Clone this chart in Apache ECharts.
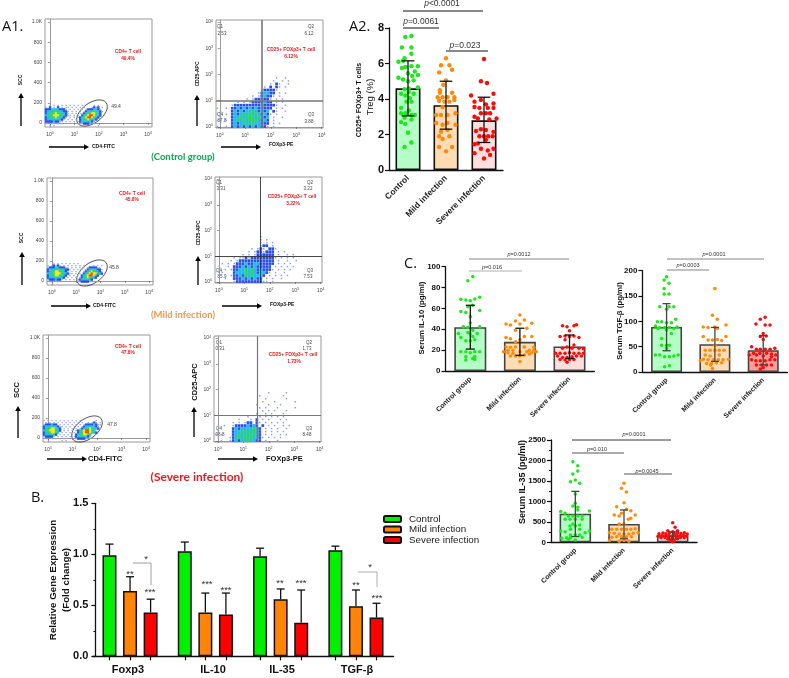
<!DOCTYPE html>
<html>
<head>
<meta charset="utf-8">
<style>
html, body { margin: 0; padding: 0; background: #fff; }
#chart { width: 789px; height: 678px; }
</style>
<script src="https://cdn.jsdelivr.net/npm/echarts@6/dist/echarts.min.js"></script>
</head>
<body>
<div id="chart"></div>
<script>
// Groups
const groupNames = ['Control', 'Mild infection', 'Severe infection'];
const serumNames = ['Control group', 'Mild infection', 'Severe infection'];

// A2 Treg (%): bar heights, error ranges, dots as [offset from bar centre, value]
const tregMeans = [4.6, 3.65, 2.8];
const tregErrors = [[3.05, 6.15], [2.3, 5.0], [1.55, 4.1]];
const tregControl = [[-.07,7.5],[.09,7.55],[-.16,6.9],[.09,6.9],[-.09,6.3],[.09,6.55],[-.25,6.1],[-.13,6.15],[-.16,5.75],[-.07,5.8],[.09,5.85],[.26,5.85],[.18,5.55],[0,5.45],[.11,5.3],[.26,5.35],[-.25,5.2],[-.13,5.1],[0,5],[.15,5.05],[.26,4.65],[-.09,4.55],[.02,4.6],[-.18,4.3],[-.07,4.2],[.02,4.4],[.15,4.3],[.05,4.05],[-.04,3.85],[.09,3.85],[-.18,3.5],[-.18,3.2],[-.07,3.2],[.02,3.35],[.09,3.1],[.18,3.1],[-.09,2.95],[.09,2.85],[-.18,2.7],[-.07,2.6],[0,2.1],[.09,1.55],[-.09,1.3]];
const tregMild = [[0,6.3],[-.13,5.9],[.09,5.9],[-.18,5.5],[.16,5.65],[-.07,4.8],[0,5.05],[-.16,4.5],[-.16,4.35],[.16,4.35],[-.22,4.1],[-.09,4.1],[.04,4.1],[.22,4.1],[-.18,3.9],[-.04,3.85],[.09,3.85],[.22,3.95],[-.09,3.55],[-.26,3.1],[-.13,3.1],[.04,3.1],[.25,3.2],[-.26,2.65],[-.09,2.55],[.04,2.65],[.25,2.55],[-.18,1.9],[.09,1.9],[-.09,1.75],[-.18,1.3],[.16,1.3],[0,1.05],[-.13,2.15],[.04,2.25]];
const tregSevere = [[0,6.25],[-.08,5],[.08,4.9],[-.34,4.2],[.25,4.3],[-.25,3.85],[-.08,3.95],[.05,3.7],[.25,3.75],[-.25,3.55],[-.12,3.5],[.25,3.5],[.1,3.5],[-.08,3.2],[.05,3.2],[.16,3.2],[-.25,3],[-.16,2.9],[.33,2.9],[.14,2.85],[-.08,2.3],[.05,2.25],[-.21,2.2],[.25,2.15],[-.12,1.9],[0,1.9],[.11,1.9],[.23,1.9],[.05,1.7],[-.25,1.45],[-.16,1.5],[.25,1.2],[.1,1.1],[-.25,.95],[-.08,1.2],[.16,.85],[0,.65]];

// C Serum IL-10
const il10Means = [42, 28, 23.5];
const il10Errors = [[21, 63], [15, 41], [12, 34.5]];
const il10Control = [[.05,90.5],[-.05,86.6],[.19,70.6],[.09,69],[-.19,68.7],[-.09,68],[0,67.4],[.05,63],[-.05,61.7],[-.19,57],[-.09,56],[.19,58],[0,52],[0,46],[-.14,42.5],[-.05,42],[.19,42.5],[.05,39],[-.24,36],[-.05,37],[0,35.5],[.14,36],[-.19,32],[.05,33],[-.09,29],[0,29],[.09,30],[-.19,18.5],[-.09,18.5],[0,17.5],[.09,18.5],[.19,18.5],[-.09,13.7],[.09,14],[.05,12],[-.09,10.5],[.09,11]];
const il10Mild = [[0,53.7],[-.09,48],[.09,49],[-.28,45],[-.19,44],[0,45],[.24,45.7],[-.09,39],[.14,41],[-.28,32],[-.19,31],[.09,33],[.24,33],[0,30],[-.09,28],[-.28,23],[-.19,22.7],[-.09,23],[.09,23],[.28,22.7],[-.24,20],[-.14,20],[.19,20],[.28,20],[-.33,18.5],[-.24,17.5],[-.14,17],[0,18.5],[.14,18.5],[.24,17.5],[.33,18.5],[-.09,14.4],[0,14.4],[.09,15.3],[-.19,14.4],[.19,16.3],[0,9]];
const il10Severe = [[-.14,43.5],[-.05,42.5],[.09,43.5],[.14,44.4],[0,38.7],[-.19,33],[-.09,33.5],[0,33],[.09,33.5],[.19,32],[-.09,30],[-.05,23],[-.14,21.7],[.09,25],[.05,21.7],[.19,21.7],[.28,21.4],[-.28,17],[-.19,17],[-.09,17],[0,17.5],[.09,17],[.19,17],[.28,17],[-.24,14.4],[-.14,13],[-.05,13],[.05,13.7],[.14,14.4],[.24,14.4],[-.19,11],[-.09,10.5],[0,11],[.09,11],[-.05,8.3]];

// C Serum TGF-beta
const tgfMeans = [89, 55, 43];
const tgfErrors = [[42, 135], [21, 88], [14, 72]];
const tgfControl = [[0,188],[-.05,181.5],[.05,175],[-.05,165],[-.05,154],[.05,154],[-.14,129],[.05,129],[.15,129],[0,124],[-.19,99],[-.1,99],[0,97],[.1,97],[.19,104],[-.23,91],[-.14,88],[-.04,88],[.06,88],[.15,86],[.22,89],[-.18,86],[0,83],[.1,76],[-.1,66],[-.1,53],[0,53],[.06,53],[0,47],[-.23,33.5],[-.14,33.5],[-.04,30],[.06,30],[.15,31.5],[.24,33.5],[-.04,10.5],[.06,12.5]];
const tgfMild = [[0,165],[-.05,112],[.05,104],[-.24,89],[-.14,88],[0,89],[.23,93],[.05,86],[-.24,70],[-.14,63],[-.05,63],[.05,64],[.14,62],[.23,70],[-.2,43],[-.1,43],[0,53],[.09,43],[.19,43],[0,43],[-.2,33.5],[-.1,31.5],[.09,33.5],[-.24,25],[-.14,24],[-.03,24],[.07,24],[.17,24],[.28,25],[-.3,22],[-.17,17],[-.07,17],[.03,18.5],[.14,18.5],[-.05,7],[-.09,14]];
const tgfSevere = [[.04,108],[-.15,95],[-.06,104],[.04,93],[.14,93],[0,76],[-.06,70],[.06,71],[0,64],[-.24,50],[-.14,45],[-.06,45],[.04,45],[.14,45],[.24,47],[-.2,37],[-.07,37],[.07,37],[.17,35.5],[-.29,33.5],[-.14,33.5],[0,31.5],[.26,33.5],[.17,30],[-.24,24],[-.15,22],[-.06,22],[.04,22],[.14,24],[.24,24],[-.14,14],[-.03,14],[.07,14],[.17,14],[0,9],[-.06,6]];

// C Serum IL-35
const il35Means = [700, 450, 170];
const il35Errors = [[140, 1245], [85, 790], [80, 255]];
const il35Control = [[-.05,1970],[.05,1872],[-.05,1670],[.05,1742],[-.1,1481],[0,1522],[.09,1441],[0,1180],[0,952],[-.05,887],[.05,855],[.05,790],[-.3,750],[-.21,708],[.29,765],[-.14,643],[-.05,643],[.05,643],[.14,643],[-.21,562],[-.11,562],[0,562],[.14,562],[-.05,448],[-.11,400],[0,400],[.09,423],[-.1,317],[.09,317],[-.3,277],[-.21,260],[.29,277],[.2,236],[-.1,180],[0,180],[.09,180],[-.18,114],[-.1,114],[-.28,98],[.14,122],[0,57],[-.14,73]];
const il35Mild = [[0,1441],[-.05,1319],[.05,1229],[0,969],[-.15,871],[.05,806],[.14,773],[-.05,708],[-.2,667],[-.1,643],[.23,667],[.14,586],[.09,562],[-.1,448],[0,448],[-.25,317],[-.15,317],[-.05,317],[.05,317],[.14,317],[.23,334],[-.3,236],[-.2,220],[-.1,204],[0,204],[.1,204],[.19,220],[.29,236],[-.15,138],[-.05,138],[.05,138],[.15,138],[-.3,41],[-.1,24],[0,41],[.1,24],[-.25,122]];
const il35Severe = [[0,480],[.05,366],[-.1,285],[0,260],[.1,285],[-.28,210],[-.2,225],[-.14,210],[-.07,230],[.03,215],[.1,225],[.17,215],[.24,235],[.3,205],[-.3,150],[-.22,165],[-.15,150],[-.08,170],[0,160],[.07,170],[.14,155],[.22,165],[.28,150],[-.24,110],[-.16,115],[-.08,105],[0,120],[.08,110],[.16,120],[.24,110],[-.1,80],[0,70],[.1,85],[-.05,40],[.03,30],[0,15]];

// B Relative gene expression
const geneNames = ['Foxp3', 'IL-10', 'IL-35', 'TGF-β'];
const geneControl = [0.99, 1.03, 0.98, 1.04];
const geneMild = [0.64, 0.43, 0.56, 0.49];
const geneSevere = [0.43, 0.41, 0.33, 0.38];
const geneControlHigh = [1.10, 1.12, 1.06, 1.08];
const geneMildHigh = [0.78, 0.62, 0.66, 0.65];
const geneSevereHigh = [0.56, 0.62, 0.65, 0.52];

// A1 density maps read by eye, one character per cell (. empty, 1 sparse blue ... 6 red), top row first
const sccControl = [
  '..1.1.1.1.1.1.1.1.1.....1.1...',
  '1.2.1.2.1.11.1.1.1.1...1212.1.',
  '22233332221.1.1.1.1.12223321..',
  '233344333221.1.1.1.1233343321.',
  '234445443321.1.1.11234455432..',
  '3344555443211.1.1.2345665432..',
  '23444544321.1.1.12345665432...',
  '2333343321.1.1.1.234454432....',
  '222232211.1.1.1.123343321.....',
  '11111.1.1.........12221.......',
  '..1.1.....................1...'
];
const sccMild = [
  '...1.1.1.1.1.1.1..............',
  '1.12121.1.1.1.1.1.1....1.1.1..',
  '12223322211.1.1.1.1.1222211...',
  '233334433221.1.1.1.123333221..',
  '23445544321.1.1.1.1234544321..',
  '3344555443211.1.1.2345655432..',
  '2344554432.1.1.1.234566542....',
  '233344332.1.1.1.123454432.....',
  '12223221.1.1.1.12334332.......',
  '.111.1.........11222211.......',
  '..............................'
];
const sccSevere = [
  '1.1.1.1.1.1.1.1.1.1.......1...',
  '.1.1.1.1.1.1.1.1.1.1..1.121.1.',
  '1222322.1.1.1.1.1.1.122223211.',
  '2333433211.1.1.1.1.123343321..',
  '234455432.1.1.1.1.12344543321.',
  '344555432.1.1.1.1234566543....',
  '23445543.1.1.1.1.2345665432...',
  '2333432.1.1.1.1.23445543......',
  '122221.1.1.1.1.123343321......',
  '.11.1.1.1.1.....122221........',
  '.........1.1..................'
];
const foxControl = [
  '....................1..1....',
  '...................1..1.1...',
  '..................1.21..1...',
  '................1.2.21.1....',
  '...............122221.......',
  '..............123322.1.1....',
  '............1.123221.1......',
  '..........1.1222221.1.1.....',
  '.......1.1.12222322.1.1.....',
  '.....1222222222322221..1....',
  '1..1.22323232323222.1.1.....',
  '.1...2323233432323.21..1....',
  '1..1.23234343432321.1.......',
  '.1...2334344434323.1..1.....',
  '1..1.2343434443232.1........',
  '.1...2323343433222.1.1......',
  '1..1.2323232323221.1........'
];
const foxMild = [
  '............................',
  '...............1............',
  '...............1.1..........',
  '...............1.1.1........',
  '...............122.1........',
  '............1.121.221.......',
  '...........1.1221222.1.1....',
  '.........1.1.1222222.1..1.1.',
  '......1.1121222222221.1.1.1.',
  '.....1.1222222222222.1..1..1',
  '..1.1.12223223322222.1.1.1..',
  '.1..1.2223232322222.1.1.1.1.',
  '...1.122334343232221.1.1.1..',
  '..1...2333434323321.1..1....',
  '.1...122324343332.1.1.1.1...',
  '...1..2223232322.1.1..1.....',
  '......122222222211.1........'
];
const foxSevere = [
  '..................1.....1...',
  '...............1.......1....',
  '.................1......1...',
  '................1...1......1',
  '..............1...1...1.....',
  '...............1.1...1.....1',
  '................1.1.1...1...',
  '..............1..1.1...1....',
  '...........1...1.1.1.1.1....',
  '........1...1.2.1.1...1.1...',
  '......1.1.122.21.1.1.1.1....',
  '.1.1..122223232.2.1.1..1.1..',
  '..1...2323333432.1.1.1..1...',
  '.1....2334343432.1.1.1.1....',
  '1.1...2343434432.1.1..1.1...',
  '.1...123434443321.1.1.1.....',
  '..1..12323343322.1...1......'
];
// Quadrant gate on FOXp3-PE as decades
const foxGates = [1.63, 1.62, 1.56];

const sansFont = 'Liberation Sans';
const labelFont = 'Open Sans';
const levelColors = ['', '#8d9ff0', '#2a4fe6', '#22bdea', '#2fd469', '#f2e61e', '#f04a12'];
const dotColors = ['#1ce81c', '#ff8a0a', '#ff0a0a'];

const grids = [], xAxes = [], yAxes = [], series = [], graphics = [];

function txt(x, y, text, size, opts) {
    opts = opts || {};
    graphics.push({
        type: 'text', x: x, y: y, rotation: opts.rotation || 0, silent: true,
        style: {
            text: text, fill: opts.color || '#111',
            fontSize: size, fontFamily: opts.font || sansFont, fontWeight: opts.weight || 'normal',
            align: opts.align || 'center', verticalAlign: 'middle', rich: opts.rich
        }
    });
}

function segment(points, color, width) {
    graphics.push({
        type: 'polyline', silent: true, shape: { points: points },
        style: { stroke: color, lineWidth: width, fill: 'none' }
    });
}

function arrow(x1, y1, x2, y2) {
    const isVertical = x1 === x2;
    segment([[x1, y1], [isVertical ? x2 : x2 - 4, isVertical ? y2 + 4 : y2]], '#000', 1.3);
    const head = isVertical
        ? [[x2, y2], [x2 - 2.8, y2 + 5], [x2 + 2.8, y2 + 5]]
        : [[x2, y2], [x2 - 5, y2 - 2.8], [x2 - 5, y2 + 2.8]];
    graphics.push({ type: 'polygon', silent: true, shape: { points: head }, style: { fill: '#000' } });
}

function pValue(x, y, text, size) {
    txt(x, y, '{i|p}' + text, size, {
        color: '#333',
        rich: { i: { fontStyle: 'italic', fontSize: size, fontFamily: sansFont, fill: '#333', color: '#333' } }
    });
}

function densityCells(rows, xMin, dx, yMin, dy) {
    const cells = [];
    rows.forEach((row, r) => {
        const y = yMin + (rows.length - 1 - r + 0.5) * dy;
        row.split('').forEach((ch, c) => {
            if (ch !== '.') cells.push([xMin + (c + 0.5) * dx, y, +ch]);
        });
    });
    return cells;
}

function flowPlot(rect, kind, rows, gate, lineColor, lineWidth) {
    const idx = grids.length;
    const isScc = kind === 'scc';
    grids.push(Object.assign({ show: true, borderColor: '#999', borderWidth: 1, backgroundColor: '#fff' }, rect));
    const expLabel = v => '10{s|' + v + '}';
    const expRich = { s: { fontSize: 3.5, verticalAlign: 'bottom', padding: [0, 0, 3, 0], color: '#444', fontFamily: sansFont } };
    xAxes.push({
        gridIndex: idx, type: 'value', splitLine: { show: false },
        min: isScc ? -0.2 : -0.15, max: isScc ? 4.16 : 4.05,
        axisLine: { lineStyle: { color: '#999' } },
        axisTick: { length: 2, lineStyle: { color: '#555', width: 0.6 }, customValues: [0, 1, 2, 3, 4] },
        axisLabel: { fontSize: 5, color: '#444', fontFamily: sansFont, margin: 4, customValues: [0, 1, 2, 3, 4], formatter: expLabel, rich: expRich }
    });
    const ySccTicks = [0, 200, 400, 600, 800, 1000];
    const yFoxTicks = [0, 1, 2, 3, 4];
    const yTicks = isScc ? ySccTicks : yFoxTicks;
    yAxes.push({
        gridIndex: idx, type: 'value', splitLine: { show: false },
        min: isScc ? -40 : -0.04, max: isScc ? 1030 : 4.08,
        axisLine: { lineStyle: { color: '#999' } },
        axisTick: { length: 2, lineStyle: { color: '#555', width: 0.6 }, customValues: yTicks },
        axisLabel: {
            fontSize: 5, color: '#444', fontFamily: sansFont, margin: 3, customValues: yTicks, rich: expRich,
            formatter: isScc ? (v => v === 1000 ? '1.0K' : String(v)) : expLabel
        }
    });
    const cells = isScc ? densityCells(rows, -0.2, 0.082, -36, 20) : densityCells(rows, -0.15, 0.116, -0.04, 0.116);
    // sparse levels get smaller squares so the white shows through like a dot plot
    const cellSizes = isScc ? [0, 1.3, 2.4, 2.4, 2.4, 2.4, 2.4] : [0, 1.5, 2.7, 3.2, 3.4, 3.4, 3.4];
    const s = {
        type: 'scatter', xAxisIndex: xAxes.length - 1, yAxisIndex: yAxes.length - 1,
        data: cells, symbol: 'rect', silent: true,
        symbolSize: d => cellSizes[d[2]],
        itemStyle: { opacity: 1, color: p => levelColors[p.data[2]] }
    };
    if (!isScc) {
        s.markLine = {
            silent: true, symbol: 'none', label: { show: false }, animation: false,
            lineStyle: { color: lineColor, width: lineWidth, type: 'solid' },
            data: [{ xAxis: gate }, { yAxis: 1 }]
        };
    }
    series.push(s);
}

function errorSeries(xIdx, yIdx, data, capHalf, color, width, bothCaps) {
    series.push({
        type: 'custom', xAxisIndex: xIdx, yAxisIndex: yIdx, silent: true, z: 5,
        encode: { x: 0, y: [1, 2] }, data: data,
        renderItem: (params, api) => {
            const low = api.coord([api.value(0), api.value(1)]);
            const high = api.coord([api.value(0), api.value(2)]);
            const style = { stroke: color, lineWidth: width };
            const kids = [
                { type: 'line', shape: { x1: low[0], y1: low[1], x2: high[0], y2: high[1] }, style: style },
                { type: 'line', shape: { x1: high[0] - capHalf, y1: high[1], x2: high[0] + capHalf, y2: high[1] }, style: style }
            ];
            if (bothCaps) kids.push({ type: 'line', shape: { x1: low[0] - capHalf, y1: low[1], x2: low[0] + capHalf, y2: low[1] }, style: style });
            return { type: 'group', children: kids };
        }
    });
}

// One bar panel: hidden value x axis lies over the category axis so the dots can spread sideways
function dotBarPanel(cfg) {
    const idx = grids.length;
    grids.push(cfg.rect);
    xAxes.push({
        gridIndex: idx, type: 'category', data: cfg.names,
        axisLine: { lineStyle: { color: '#111', width: 1.3 } },
        axisTick: { alignWithLabel: true, length: 4, lineStyle: { color: '#111', width: 1.2 } },
        axisLabel: { rotate: 45, fontSize: cfg.nameSize, fontWeight: 'bold', fontFamily: sansFont, color: '#222', margin: 7, interval: 0 }
    });
    const catIdx = xAxes.length - 1;
    xAxes.push({ gridIndex: idx, type: 'value', min: 0, max: 3, show: false });
    const valIdx = xAxes.length - 1;
    yAxes.push({
        gridIndex: idx, type: 'value', min: 0, max: cfg.max, interval: cfg.interval, splitLine: { show: false },
        axisLine: { show: true, lineStyle: { color: '#111', width: 1.3 } },
        axisTick: { show: true, length: 4, lineStyle: { color: '#111', width: 1.2 } },
        minorTick: { show: !!cfg.minor, splitNumber: 2, length: 2, lineStyle: { color: '#111' } },
        axisLabel: { fontSize: cfg.tickSize, fontWeight: 'bold', fontFamily: sansFont, color: '#111', margin: 5, formatter: v => String(v) }
    });
    const yIdx = yAxes.length - 1;
    series.push({
        type: 'bar', xAxisIndex: catIdx, yAxisIndex: yIdx, barWidth: cfg.barWidth, silent: true,
        data: cfg.means.map((v, i) => ({ value: v, itemStyle: { color: cfg.fills[i] } })),
        itemStyle: { borderColor: cfg.barBorder, borderWidth: 1.6 }
    });
    cfg.dots.forEach((dots, g) => {
        series.push({
            type: 'scatter', xAxisIndex: valIdx, yAxisIndex: yIdx, symbolSize: cfg.dotSize, silent: true,
            data: dots.map(d => [g + 0.5 + d[0], d[1]]),
            itemStyle: { color: dotColors[g], opacity: 1 }
        });
    });
    errorSeries(valIdx, yIdx, cfg.errors.map((e, g) => [g + 0.5, e[0], e[1]]), cfg.capHalf, cfg.errorColor, 1.3, true);
}

// A1 flow plots
flowPlot({ left: 45, top: 19, width: 107, height: 108 }, 'scc', sccControl);
flowPlot({ left: 216, top: 20, width: 107, height: 108 }, 'fox', foxControl, foxGates[0], '#777', 1.6);
flowPlot({ left: 47, top: 178, width: 106, height: 107 }, 'scc', sccMild);
flowPlot({ left: 215, top: 177, width: 107, height: 106 }, 'fox', foxMild, foxGates[1], '#333', 0.9);
flowPlot({ left: 43, top: 335, width: 107, height: 107 }, 'scc', sccSevere);
flowPlot({ left: 214, top: 336, width: 107, height: 106 }, 'fox', foxSevere, foxGates[2], '#777', 1.2);

// A2
dotBarPanel({
    rect: { left: 389, top: 28, width: 114, height: 142 }, names: groupNames, max: 8, interval: 2,
    means: tregMeans, errors: tregErrors, dots: [tregControl, tregMild, tregSevere],
    fills: ['#b4ffc6', '#ffdcb4', '#ffdede'], barBorder: '#111', errorColor: '#111',
    barWidth: 25, dotSize: 4.4, capHalf: 6.3, tickSize: 11, nameSize: 8.5
});
// C
dotBarPanel({
    rect: { left: 445.5, top: 266.7, width: 148.8, height: 104.3 }, names: serumNames, max: 100, interval: 20,
    means: il10Means, errors: il10Errors, dots: [il10Control, il10Mild, il10Severe],
    fills: ['#b4ffc6', '#ffdcb4', '#ffdede'], barBorder: '#444', errorColor: '#111',
    barWidth: 32, dotSize: 3.5, capHalf: 4.5, tickSize: 8, nameSize: 7
});
dotBarPanel({
    rect: { left: 642.4, top: 270.7, width: 145, height: 101.3 }, names: serumNames, max: 200, interval: 50,
    means: tgfMeans, errors: tgfErrors, dots: [tgfControl, tgfMild, tgfSevere],
    fills: ['#b4ffc6', '#ffdcb4', '#ff9c9c'], barBorder: '#444', errorColor: '#444',
    barWidth: 31, dotSize: 3.5, capHalf: 4, tickSize: 8, nameSize: 7
});
dotBarPanel({
    rect: { left: 551, top: 440, width: 146, height: 102.3 }, names: serumNames, max: 2500, interval: 500, minor: true,
    means: il35Means, errors: il35Errors, dots: [il35Control, il35Mild, il35Severe],
    fills: ['#b4ffc6', '#ffdcb4', '#ffdede'], barBorder: '#444', errorColor: '#444',
    barWidth: 31.5, dotSize: 3.5, capHalf: 4, tickSize: 8, nameSize: 7
});

// B
const geneGrid = grids.length;
grids.push({ left: 92.4, top: 503.3, width: 301.2, height: 153 });
xAxes.push({
    gridIndex: geneGrid, type: 'category', data: geneNames,
    axisLine: { show: false }, axisTick: { show: false }, axisLabel: { show: false }
});
const geneCat = xAxes.length - 1;
const geneTicks = [];
geneNames.forEach((n, g) => { [-0.273, 0, 0.273].forEach(o => geneTicks.push(g + 0.5 + o)); });
xAxes.push({
    gridIndex: geneGrid, type: 'value', min: 0, max: 4, position: 'bottom', splitLine: { show: false },
    axisLine: { show: true, lineStyle: { color: '#111', width: 1.3 } },
    axisTick: { show: true, length: 4, lineStyle: { color: '#111', width: 1.2 }, customValues: geneTicks },
    axisLabel: { show: false }
});
const geneVal = xAxes.length - 1;
yAxes.push({
    gridIndex: geneGrid, type: 'value', min: 0, max: 1.5, interval: 0.5, offset: -3, splitLine: { show: false },
    axisLine: { show: true, lineStyle: { color: '#111', width: 1.3 } },
    axisTick: { show: true, length: 4, lineStyle: { color: '#111', width: 1.2 } },
    minorTick: { show: true, splitNumber: 2, length: 2, lineStyle: { color: '#111' } },
    axisLabel: { fontSize: 11, fontWeight: 'bold', fontFamily: sansFont, color: '#111', margin: 7, formatter: v => v.toFixed(1) }
});
const geneY = yAxes.length - 1;
[[groupNames[0], geneControl, '#00f000'], [groupNames[1], geneMild, '#ff8408'], [groupNames[2], geneSevere, '#ff0000']].forEach(item => {
    series.push({
        name: item[0], type: 'bar', xAxisIndex: geneCat, yAxisIndex: geneY, data: item[1], silent: true,
        barWidth: 14, barGap: '47%', itemStyle: { color: item[2], borderColor: '#111', borderWidth: 1.5 }
    });
});
[[geneControlHigh, geneControl, -0.273], [geneMildHigh, geneMild, 0], [geneSevereHigh, geneSevere, 0.273]].forEach(item => {
    errorSeries(geneVal, geneY, item[0].map((h, g) => [g + 0.5 + item[2], item[1][g], h]), 4, '#111', 1.3, false);
});
// the labels sit a little off the group centres in the original
[128, 213, 282, 357].forEach((x, g) => txt(x, 670, geneNames[g], 11, { weight: 'bold' }));

// Panel letters
txt(2, 27, 'A1.', 14.5, { align: 'left', font: labelFont });
txt(349, 27, 'A2.', 14.5, { align: 'left', font: labelFont });
txt(404, 264, 'C.', 14.5, { align: 'left', font: labelFont });
txt(31, 498, 'B.', 14.5, { align: 'left', font: labelFont });

// A1 annotations
const red = '#f01818';
[
    { cd4: [128, 52, 59], pct: '49.4%', gate: '49.4', gateAt: [116, 107], ell: [92, 113], scc: [21, 80], sccArrow: [21, 126, 93], fitc: [49, 89, 147, 92], apc: [198, 74], apcArrow: [197, 126, 95], pe: [221, 261, 147, 269, 145], size: 5, group: ['(Control group)', 183, 157, '#00b050', 9.5] },
    { cd4: [132, 194, 200], pct: '45.8%', gate: '45.8', gateAt: [114, 268], ell: [92, 273], scc: [22, 238], sccArrow: [22, 285, 252], fitc: [51, 91, 306, 93], apc: [199, 233], apcArrow: [198, 285, 256], pe: [222, 262, 306, 270, 305], size: 5, group: ['(Mild infection)', 183, 315, '#f79646', 9.5] },
    { cd4: [128, 347, 353], pct: '47.8%', gate: '47.8', gateAt: [112, 425], ell: [87, 429], scc: [17, 390], sccArrow: [18, 438, 406], fitc: [47, 87, 459, 88], apc: [195, 382], apcArrow: [194, 437, 407], pe: [218, 258, 459, 266, 459], size: 7.5, group: ['(Severe infection)', 197, 477, '#f01818', 12] }
].forEach(p => {
    txt(p.cd4[0], p.cd4[1], 'CD4+ T cell', 4.8, { color: red, weight: 'bold' });
    txt(p.cd4[0], p.cd4[2], p.pct, 4.8, { color: red, weight: 'bold' });
    txt(p.gateAt[0], p.gateAt[1], p.gate, 5, { color: '#444' });
    graphics.push({
        type: 'ellipse', silent: true, x: p.ell[0], y: p.ell[1], rotation: 0.63,
        shape: { cx: 0, cy: 0, rx: 17.5, ry: 10 }, style: { fill: 'none', stroke: '#222', lineWidth: 0.7 }
    });
    txt(p.scc[0], p.scc[1], 'SCC', p.size, { weight: 'bold', rotation: Math.PI / 2 });
    arrow(p.sccArrow[0], p.sccArrow[1], p.sccArrow[0], p.sccArrow[2]);
    arrow(p.fitc[0], p.fitc[2], p.fitc[1], p.fitc[2]);
    txt(p.fitc[3], p.fitc[2], 'CD4-FITC', p.size, { weight: 'bold', align: 'left' });
    txt(p.apc[0], p.apc[1], 'CD25-APC', p.size, { weight: 'bold', rotation: Math.PI / 2 });
    arrow(p.apcArrow[0], p.apcArrow[1], p.apcArrow[0], p.apcArrow[2]);
    arrow(p.pe[0], p.pe[2], p.pe[1], p.pe[2]);
    txt(p.pe[3], p.pe[4], 'FOXp3-PE', p.size, { weight: 'bold', align: 'left' });
    txt(p.group[1], p.group[2], p.group[0], p.group[4], { color: p.group[3], weight: 'bold', font: 'Lato' });
});

// Quadrant percentages
[
    [[220, 27, 'Q1'], [222, 34, '2.53'], [311, 27, 'Q2'], [309, 34, '6.12'], [220, 115, 'Q4'], [222, 121, '87.8'], [311, 115, 'Q3'], [309, 122, '3.88']],
    [[219, 183, 'Q1'], [221, 189, '3.31'], [310, 183, 'Q2'], [308, 189, '3.22'], [219, 271, 'Q4'], [222, 277, '85.9'], [310, 271, 'Q3'], [308, 277, '7.53']],
    [[219, 343, 'Q1'], [220, 349, '0.31'], [309, 343, 'Q2'], [307, 349, '1.73'], [219, 429, 'Q4'], [220, 435, '98.8'], [309, 429, 'Q3'], [307, 435, '8.48']]
].forEach(list => list.forEach(t => txt(t[0], t[1], t[2], 4.5, { color: '#444' })));
txt(291, 50, 'CD25+ FOXp3+ T cell', 4.8, { color: red, weight: 'bold' });
txt(291, 57, '6.12%', 4.8, { color: red, weight: 'bold' });
txt(292, 197, 'CD25+ FOXp3+ T cell', 4.8, { color: red, weight: 'bold' });
txt(293, 204, '3.22%', 4.8, { color: red, weight: 'bold' });
txt(293, 355, 'CD25+ FOXp3+ T cell', 4.8, { color: red, weight: 'bold' });
txt(294, 362, '1.73%', 4.8, { color: red, weight: 'bold' });

// A2 annotations
txt(359, 100, 'CD25+ FOXp3+ T cells', 7, { weight: 'bold', rotation: Math.PI / 2 });
txt(370, 97, 'Treg (%)', 9.5, { rotation: Math.PI / 2 });
segment([[403, 11], [483, 11]], '#111', 1);
pValue(442, 4, '<0.0001', 8.5);
segment([[403, 28], [439, 28]], '#111', 1);
pValue(421, 22, '=0.0061', 8.5);
segment([[446, 51], [488, 51]], '#111', 1);
pValue(465, 46, '=0.023', 8.5);

// C annotations
txt(422, 318, 'Serum IL-10 (pg/ml)', 7.8, { weight: 'bold', rotation: Math.PI / 2 });
txt(620, 321, 'Serum TGF-β (pg/ml)', 7.8, { weight: 'bold', rotation: Math.PI / 2 });
txt(523, 482, 'Serum IL-35 (pg/ml)', 9, { weight: 'bold', rotation: Math.PI / 2 });
segment([[469, 259], [569, 259]], '#666', 0.8);
pValue(519, 254, '=0.0012', 5.5);
segment([[469, 271], [522, 271]], '#999', 0.8);
pValue(492, 267, '=0.016', 5.5);
segment([[667, 259], [764, 259]], '#666', 0.8);
pValue(714, 254, '=0.0001', 5.5);
segment([[667, 270], [709, 270]], '#666', 0.8);
pValue(688, 265, '=0.0003', 5.5);
segment([[572, 440], [671, 440]], '#222', 0.9);
pValue(634, 434, '=0.0001', 5.5);
segment([[572, 453], [624, 453]], '#444', 0.9);
pValue(597, 449, '=0.010', 5.5);
segment([[624, 474], [672, 474]], '#444', 0.9);
pValue(647, 471, '=0.0045', 5.5);

// B annotations
txt(53, 580, 'Relative Gene Expression', 9.8, { weight: 'bold', rotation: Math.PI / 2 });
txt(66, 580, '(Fold change)', 9.8, { weight: 'bold', rotation: Math.PI / 2 });
segment([[133, 563], [151, 563], [151, 585]], '#888', 0.8);
segment([[358, 572], [377, 572], [377, 587]], '#999', 0.8);
[[146, 559, '*'], [130, 574, '**'], [150, 592, '***'], [207, 584, '***'], [226, 590, '***'], [280, 583, '**'], [301, 583, '***'], [370, 567, '*'], [356, 585, '**'], [377, 598, '***']]
    .forEach(t => txt(t[0], t[1], t[2], 9.5, { color: '#333' }));

var chartDom = document.getElementById('chart');
var myChart = echarts.init(chartDom, null, { renderer: 'canvas' });
myChart.setOption({
    animation: false,
    backgroundColor: '#fff',
    legend: {
        data: groupNames, orient: 'vertical', left: 383, top: 514, padding: 0, itemWidth: 17, itemHeight: 6, itemGap: 0.5,
        textStyle: { fontSize: 9.8, lineHeight: 10, fontFamily: sansFont, color: '#222', padding: [0, 0, 0, 3] }, selectedMode: false
    },
    grid: grids,
    xAxis: xAxes,
    yAxis: yAxes,
    series: series,
    graphic: { elements: graphics }
});
</script>
</body>
</html>
